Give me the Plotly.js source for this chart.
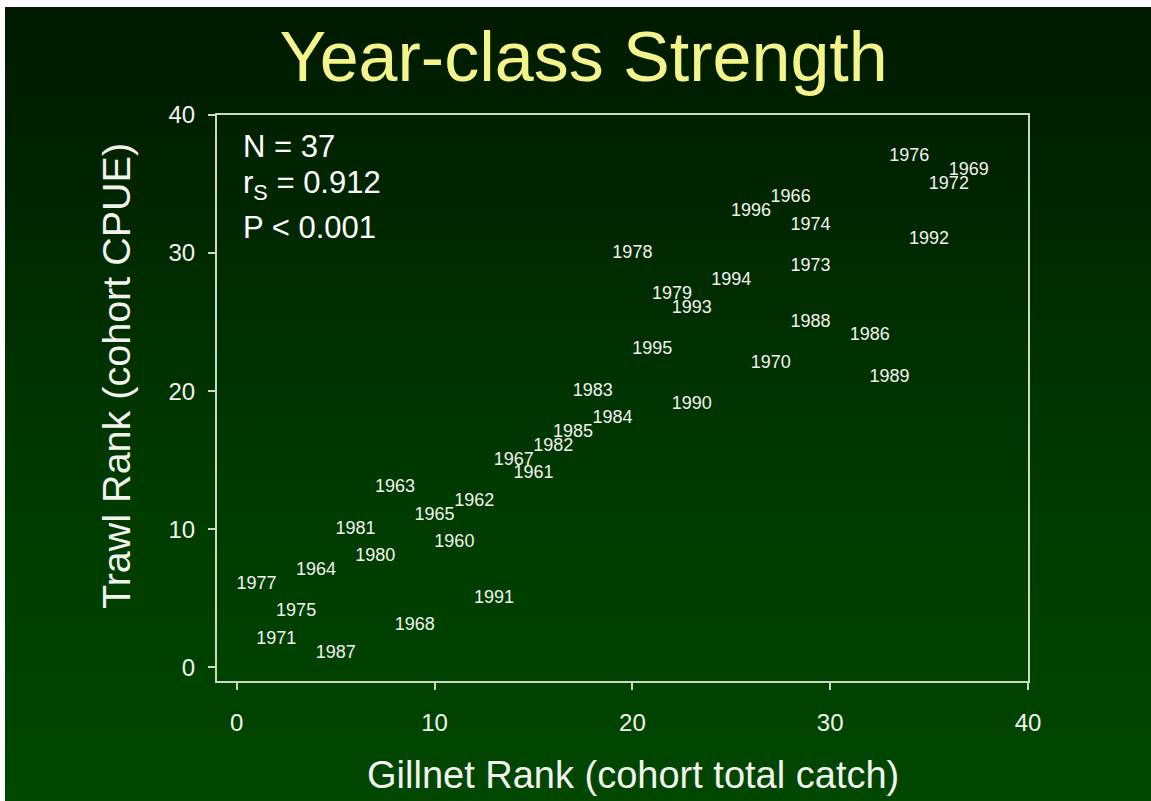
<!DOCTYPE html>
<html>
<head>
<meta charset="utf-8">
<script src="https://cdn.plot.ly/plotly-3.0.1.min.js"></script>
<style>
  html, body { margin: 0; padding: 0; width: 1151px; height: 801px; overflow: hidden; background: #ffffff; }
  #bg { position: absolute; left: 5px; top: 7px; right: 0; bottom: 0;
        background: linear-gradient(to bottom, #001a00 0%, #002900 30%, #003a00 60%, #004700 100%); }
  #chart { position: absolute; left: 0; top: 0; width: 1151px; height: 801px; }
</style>
</head>
<body>
<div id="bg"></div>
<div id="chart"></div>
<script>
// Year-class labels, positioned at (gillnet rank, trawl rank)
const years = ["1960","1961","1962","1963","1964","1965","1966","1967","1968","1969",
               "1970","1971","1972","1973","1974","1975","1976","1977","1978","1979",
               "1980","1981","1982","1983","1984","1985","1986","1987","1988","1989",
               "1990","1991","1992","1993","1994","1995","1996"];
const gillnetRank = [11,15,12,8,4,10,28,14,9,37,
                     27,2,36,29,29,3,34,1,20,22,
                     7,6,16,18,19,17,32,5,29,33,
                     23,13,35,23,25,21,26];
const trawlRank = [9,14,12,13,7,11,34,15,3,36,
                   22,2,35,29,32,4,37,6,30,27,
                   8,10,16,20,18,17,24,1,25,21,
                   19,5,31,26,28,23,33];
const statLines = ["N = 37", "r<sub>S</sub> = 0.912", "P &lt; 0.001"];
const tickVals = [0, 10, 20, 30, 40];
const xTitle = "Gillnet Rank (cohort total catch)";
const yTitle = "Trawl Rank (cohort CPUE)";

const FONT = "Liberation Sans, Arial, Helvetica, sans-serif";
const AXIS_COLOR = "#c9d9c2";
const TEXT_COLOR = "#f2f2ee";

const trace = {
  type: "scatter",
  mode: "text",
  x: gillnetRank,
  y: trawlRank,
  text: years,
  textposition: "middle center",
  textfont: { family: FONT, size: 18, color: TEXT_COLOR },
  hoverinfo: "text",
  cliponaxis: false,
  showlegend: false
};

const statY = [0.9435, 0.877, 0.8005];
const annotations = statLines.map((t, i) => ({
  xref: "paper", yref: "paper",
  x: 0.029, y: statY[i],
  xanchor: "left", yanchor: "middle",
  text: t, showarrow: false,
  font: { family: FONT, size: 31, color: "#ffffff" }
}));
// axis titles, placed where the reference draws them
annotations.push({
  xref: "paper", yref: "paper", x: 0.5135, y: -0.166,
  xanchor: "center", yanchor: "middle", showarrow: false,
  text: xTitle, font: { family: FONT, size: 38, color: TEXT_COLOR }
});
annotations.push({
  xref: "paper", yref: "paper", x: -0.1245, y: 0.539,
  xanchor: "center", yanchor: "middle", showarrow: false, textangle: -90,
  text: yTitle, font: { family: FONT, size: 39.5, color: TEXT_COLOR }
});

const axisCommon = {
  range: [-1, 40],
  tickmode: "array",
  tickvals: tickVals,
  ticktext: tickVals.map(String),
  ticks: "outside",
  ticklen: 7,
  tickwidth: 2,
  tickcolor: AXIS_COLOR,
  showline: true,
  linecolor: AXIS_COLOR,
  linewidth: 2,
  mirror: true,
  showgrid: false,
  zeroline: false,
  tickfont: { family: FONT, size: 24, color: TEXT_COLOR }
};

const layout = {
  width: 1151,
  height: 801,
  margin: { l: 217, r: 123, t: 115, b: 120, pad: 0 },
  paper_bgcolor: "rgba(0,0,0,0)",
  plot_bgcolor: "rgba(0,0,0,0)",
  font: { family: FONT, color: TEXT_COLOR },
  title: {
    text: "Year-class Strength",
    x: 0.507, xanchor: "center",
    y: 0.93, yanchor: "middle",
    font: { family: FONT, size: 70, color: "#f4f48a" }
  },
  xaxis: Object.assign({}, axisCommon, { ticklabelstandoff: 12 }),
  yaxis: Object.assign({}, axisCommon, { ticklabelstandoff: 8 }),
  annotations: annotations,
  showlegend: false
};

Plotly.newPlot("chart", [trace], layout, { displayModeBar: false, staticPlot: true });
</script>
</body>
</html>
